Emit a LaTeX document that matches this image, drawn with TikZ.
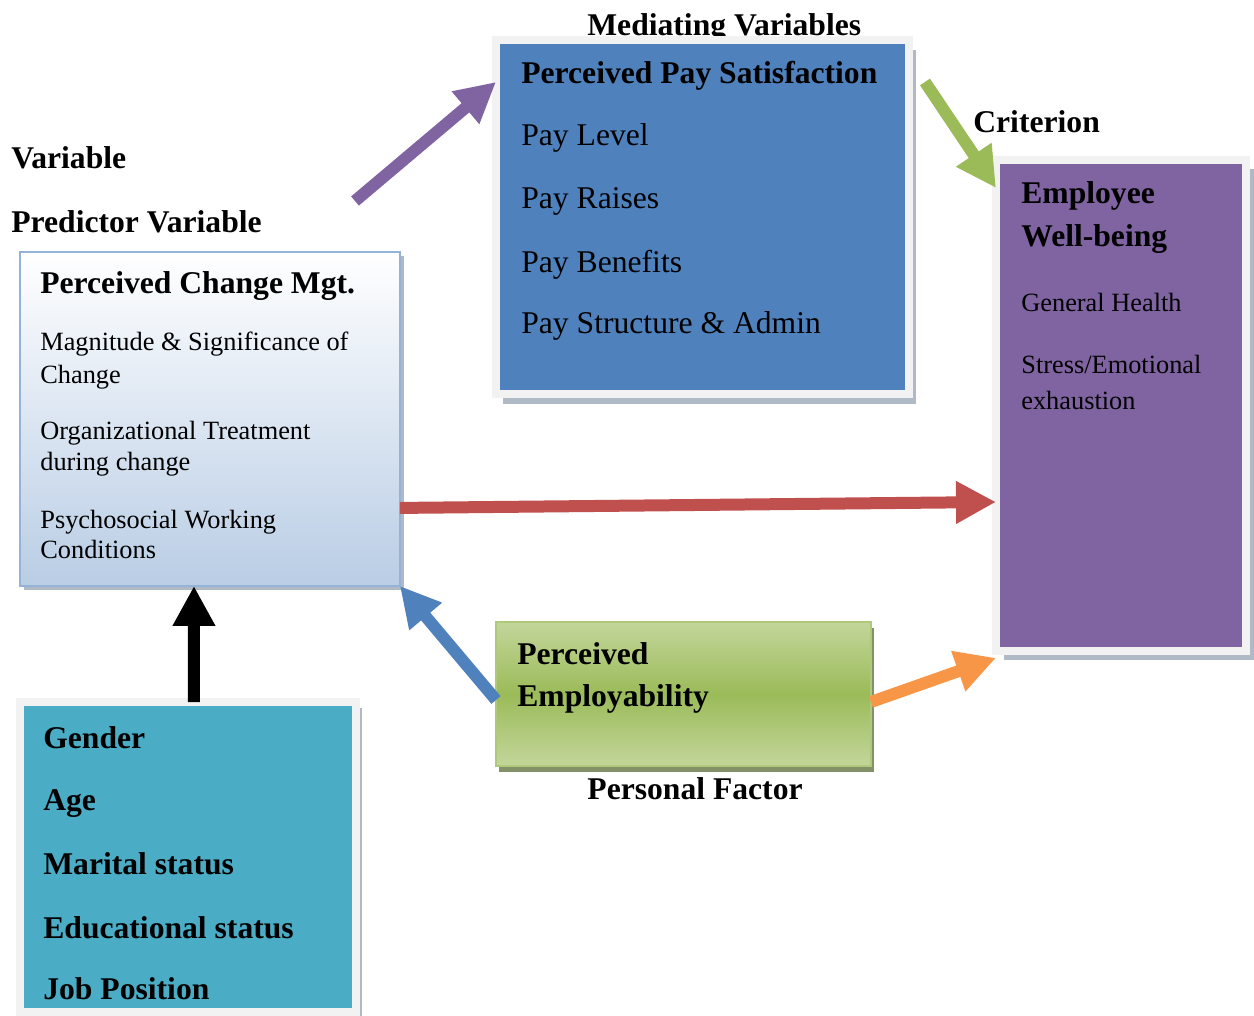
\documentclass[tikz,border=0pt]{standalone}
\usepackage{fontspec}
\setmainfont{Liberation Serif}
\usetikzlibrary{positioning,calc,shadows,arrows.meta}

\definecolor{payblue}{HTML}{4F81BD}
\definecolor{wellpurple}{HTML}{8064A2}
\definecolor{empgreen}{HTML}{9BBB59}
\definecolor{lightgreen}{HTML}{C3D69B}
\definecolor{darkgreen}{HTML}{4F6228}
\definecolor{arrred}{HTML}{C0504D}
\definecolor{arrorange}{HTML}{F79646}
\definecolor{demoteal}{HTML}{4BACC6}
\definecolor{framegray}{HTML}{F2F2F2}
\definecolor{chgblue}{HTML}{B9CDE5}
\definecolor{chgborder}{HTML}{95B3D7}
\definecolor{shadowgray}{HTML}{9CA8B8}

\tikzset{frame/.style={draw=framegray,line width=0.16cm,inner sep=0pt,outer sep=0pt,anchor=north west}}
\tikzset{arr/.style={-{Triangle[length=0.8cm,width=0.8cm]},line width=0.24cm}}
\tikzset{bigtxt/.style={font=\fontsize{18}{21}\selectfont,inner sep=0pt,anchor=base west}}
\tikzset{boldtxt/.style={font=\fontsize{18}{21}\selectfont\bfseries,inner sep=0pt,anchor=base west}}
\tikzset{smalltxt/.style={font=\fontsize{15}{18}\selectfont,inner sep=0pt,anchor=base west}}
\tikzset{welltxt/.style={font=\fontsize{15}{18}\selectfont,inner sep=0pt,anchor=base west}}

\begin{document}
\begin{tikzpicture}[x=0.02cm,y=-0.02cm]

	\useasboundingbox (0,0) rectangle (1254,1016);

	%% Headings
	\node[boldtxt] (medlbl) at (587,36) {Mediating Variables};
	\node[boldtxt] (varlbl) at (11,169) {Variable};
	\node[boldtxt] (predlbl) at (11,233) {Predictor Variable};
	\node[boldtxt] (critlbl) at (973,133) {Criterion};
	%%

	%% Boxes
	\node[frame,fill=payblue,minimum width=8.26cm,minimum height=7.08cm,
		drop shadow={shadow xshift=0.14cm,shadow yshift=-0.2cm,fill=shadowgray,opacity=.8}] (pay) at (496,40) {};
	\node[frame,fill=wellpurple,minimum width=5cm,minimum height=9.82cm,
		drop shadow={shadow xshift=0.16cm,shadow yshift=-0.18cm,fill=shadowgray,opacity=.8}] (well) at (996,160) {};
	\node[frame,fill=demoteal,minimum width=6.72cm,minimum height=6.2cm,
		drop shadow={shadow xshift=0.12cm,shadow yshift=-0.12cm,fill=shadowgray,opacity=.8}] (demo) at (20,702) {};
	\node[draw=chgborder,line width=0.04cm,top color=white,bottom color=chgblue,
		minimum width=7.6cm,minimum height=6.68cm,inner sep=0pt,outer sep=0pt,anchor=north west,
		drop shadow={shadow xshift=0.08cm,shadow yshift=-0.08cm,fill=shadowgray,opacity=.8}] (chg) at (20,252) {};
	\node[draw=empgreen!80,line width=0.04cm,top color=lightgreen,bottom color=lightgreen,middle color=empgreen,
		minimum width=7.5cm,minimum height=2.88cm,inner sep=0pt,outer sep=0pt,anchor=north west,
		drop shadow={shadow xshift=0.06cm,shadow yshift=-0.12cm,fill=darkgreen,opacity=.7}] (emp) at (496,622) {};
	%%

	%% Texts
	\node[boldtxt] (paytitle) at (521,84) {Perceived Pay Satisfaction};
	\node[bigtxt] (pay1) at (521,146) {Pay Level};
	\node[bigtxt] (pay2) at (521,209) {Pay Raises};
	\node[bigtxt] (pay3) at (521,273) {Pay Benefits};
	\node[bigtxt] (pay4) at (521,334) {Pay Structure \& Admin};

	\node[boldtxt] (chgtitle) at (40,294) {Perceived Change Mgt.};
	\node[smalltxt] (chg1) at (40,351) {Magnitude \& Significance of};
	\node[smalltxt] (chg1b) at (40,384) {Change};
	\node[smalltxt] (chg2) at (40,440) {Organizational Treatment};
	\node[smalltxt] (chg2b) at (40,471) {during change};
	\node[smalltxt] (chg3) at (40,528) {Psychosocial Working};
	\node[smalltxt] (chg3b) at (40,559) {Conditions};

	\node[boldtxt] (welltitle) at (1021,204) {Employee};
	\node[boldtxt] (welltitleb) at (1021,247) {Well-being};
	\node[welltxt] (well1) at (1021,312) {General Health};
	\node[welltxt] (well2) at (1021,374) {Stress/Emotional};
	\node[welltxt] (well2b) at (1021,410) {exhaustion};

	\node[boldtxt] (emptitle) at (517,664) {Perceived};
	\node[boldtxt] (emptitleb) at (517,706) {Employability};
	\node[boldtxt,anchor=base] (persfac) at (695,799) {Personal Factor};

	\foreach \t/\y in {Gender/748,Age/810,Marital status/874,Educational status/938,Job Position/999}
		\node[boldtxt] (demo-\y) at (43,\y) {\t};
	%%

	%% Arrows
	\coordinate (purpletail) at (355,201);
	\coordinate (greentail) at (925,82);
	\draw[arr,wellpurple] (purpletail) -- ($(pay.north west)+(0,42)$);
	\draw[arr,empgreen] (greentail) -- ($(well.north west)+(0,28)$);
	\draw[arr,arrred] ($(chg.south east)+(0,-78)$) -- ($(well.north west)+(0,342)$);
	\draw[arr,payblue] ($(emp.west)+(0,6)$) -- (chg.south east);
	\draw[arr,arrorange] ($(emp.east)+(0,8)$) -- ($(well.south west)+(0,7)$);
	\draw[arr,black] ($(demo.north)+(6,0)$) -- ($(chg.south)+(-16,0)$);
	%%

\end{tikzpicture}
\end{document}
